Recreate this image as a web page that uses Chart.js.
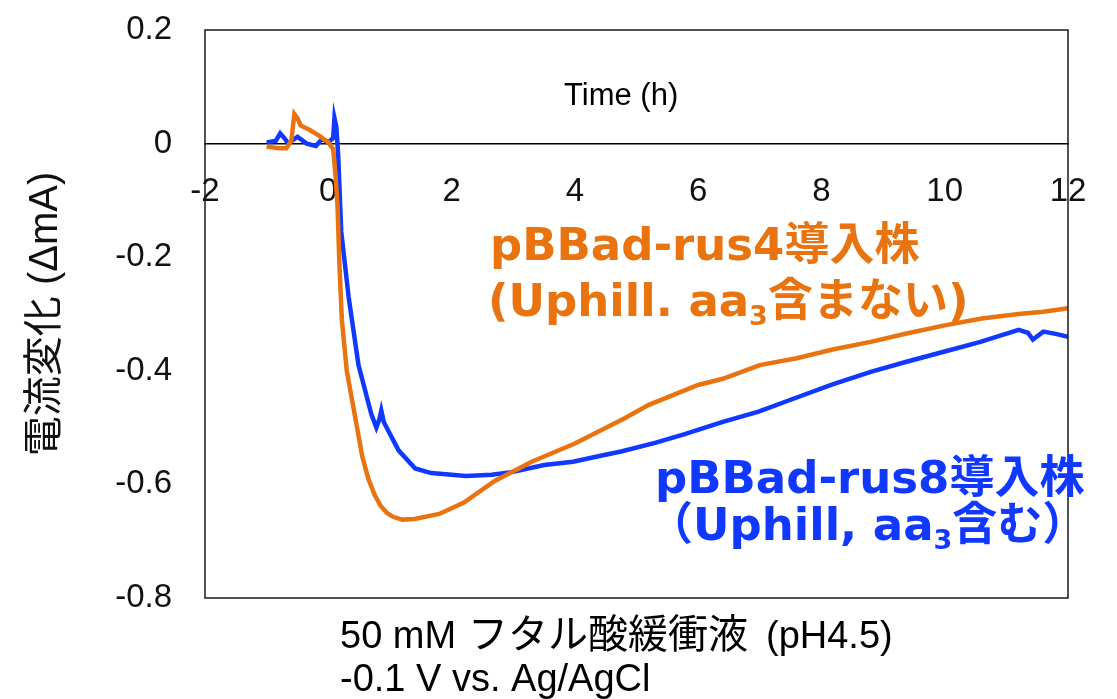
<!DOCTYPE html>
<html>
<head>
<meta charset="utf-8">
<script src="https://cdn.jsdelivr.net/npm/chart.js@4.4.1/dist/chart.umd.min.js"></script>
<style>
  html, body { margin: 0; padding: 0; background: #fff; }
  #wrap { width: 1117px; height: 699px; }
</style>
</head>
<body>
<div id="wrap"><canvas id="chart" width="1117" height="699"></canvas></div>
<script>
// tick values
const xTickValues = [-2, 0, 2, 4, 6, 8, 10, 12];
const yTickValues = [-0.8, -0.6, -0.4, -0.2, 0, 0.2];

// pBBad-rus4 (orange), time in h / current change in mA
const timeRus4 = [-1.0, -0.8, -0.68, -0.6, -0.55, -0.5, -0.45, -0.3, -0.15, 0.0, 0.08, 0.12, 0.15, 0.18, 0.22,
  0.3, 0.4, 0.5, 0.55, 0.65, 0.75, 0.85, 0.95, 1.05, 1.2, 1.4, 1.8, 2.2, 2.7, 3.3, 4.0, 4.8, 5.2, 6.0, 6.4, 7.0, 7.6, 8.2, 8.8,
  9.4, 10.0, 10.6, 11.2, 11.6, 12.0];
const currentRus4 = [-0.005, -0.008, -0.008, 0.005, 0.052, 0.045, 0.032, 0.024, 0.014, 0.002, -0.01, -0.06, -0.11, -0.21, -0.31,
  -0.40, -0.46, -0.52, -0.55, -0.59, -0.618, -0.638, -0.65, -0.657, -0.662, -0.661, -0.652, -0.632, -0.594, -0.56, -0.528, -0.484, -0.46, -0.425, -0.414, -0.39, -0.378, -0.362, -0.349,
  -0.334, -0.32, -0.308, -0.300, -0.296, -0.29];

// pBBad-rus8 (blue)
const timeRus8 = [-1.0, -0.85, -0.78, -0.7, -0.65, -0.5, -0.35, -0.2, -0.1, 0.0, 0.08, 0.1, 0.13, 0.16, 0.21,
  0.33, 0.49, 0.7, 0.78, 0.83, 0.86, 0.9, 0.98, 1.14, 1.41, 1.67, 2.0, 2.23, 2.65, 3.0, 3.5, 3.97, 4.4, 4.75,
  5.3, 5.77, 6.4, 6.98, 7.6, 8.18, 8.8, 9.38, 10.0, 10.58, 10.9, 11.2, 11.35, 11.43, 11.6, 11.8, 12.0];
const currentRus8 = [0.002, 0.005, 0.018, 0.008, 0.0, 0.012, 0.0, -0.004, 0.008, 0.002, 0.01, 0.045, 0.03, -0.02, -0.155,
  -0.27, -0.39, -0.477, -0.50, -0.485, -0.47, -0.49, -0.507, -0.54, -0.572, -0.58, -0.583, -0.585, -0.583, -0.578, -0.566, -0.56, -0.55, -0.542,
  -0.527, -0.512, -0.49, -0.472, -0.447, -0.424, -0.402, -0.384, -0.366, -0.349, -0.338, -0.328, -0.333, -0.345, -0.331, -0.335, -0.34];

const orange = '#e8730f';
const blue = '#1038ff';

const toPoints = (xs, ys) => xs.map((x, i) => ({ x: x, y: ys[i] }));

function drawRuns(ctx, x, y, runs, color) {
  ctx.fillStyle = color;
  ctx.textAlign = 'left';
  ctx.textBaseline = 'alphabetic';
  for (const r of runs) {
    ctx.font = r.font;
    if (r.x !== undefined) x = r.x;
    ctx.fillText(r.text, x, y + (r.dy || 0));
    x += ctx.measureText(r.text).width;
  }
}

const boldFont = 'bold 45px "DejaVu Sans", "Noto Sans CJK JP"';
const subFont = 'bold 27px "DejaVu Sans", "Noto Sans CJK JP"';
const noteFont = '38px "Liberation Sans", "Noto Sans CJK JP"';
const noteCjkFont = '40px "Noto Sans CJK JP"';

const annotations = {
  id: 'annotations',
  afterDraw(chart) {
    const { ctx, chartArea: a, scales } = chart;
    ctx.save();
    // plot frame
    ctx.strokeStyle = '#1a1a1a';
    ctx.lineWidth = 1.5;
    ctx.strokeRect(a.left, a.top, a.right - a.left, a.bottom - a.top);

    // axis caption inside plot
    ctx.fillStyle = '#000';
    ctx.font = '31px "Liberation Sans", "DejaVu Sans"';
    ctx.textAlign = 'center';
    ctx.textBaseline = 'middle';
    ctx.fillText('Time (h)', scales.x.getPixelForValue(4.75), scales.y.getPixelForValue(0.083));

    // curve labels
    drawRuns(ctx, 490, 260, [{ text: 'pBBad-rus4導入株', font: boldFont }], orange);
    drawRuns(ctx, 488, 316, [
      { text: '(Uphill. aa', font: boldFont },
      { text: '3', font: subFont, dy: 9 },
      { text: '含まない)', font: boldFont }
    ], orange);
    drawRuns(ctx, 655, 493, [{ text: 'pBBad-rus8導入株', font: boldFont }], blue);
    drawRuns(ctx, 648, 540, [
      { text: '（Uphill, aa', font: boldFont },
      { text: '3', font: subFont, dy: 9 },
      { text: '含む）', font: boldFont }
    ], blue);

    // conditions below the plot
    drawRuns(ctx, 340, 648, [
      { text: '50 mM', font: noteFont },
      { text: 'フタル酸緩衝液', font: noteCjkFont, x: 468 },
      { text: '(pH4.5)', font: noteFont, x: 766 }
    ], '#000');
    drawRuns(ctx, 340, 691, [{ text: '-0.1 V vs. Ag/AgCl', font: noteFont }], '#000');
    ctx.restore();
  }
};

new Chart(document.getElementById('chart'), {
  type: 'line',
  data: {
    datasets: [
      {
        label: 'pBBad-rus4',
        data: toPoints(timeRus4, currentRus4),
        borderColor: orange,
        borderWidth: 4.5,
        pointRadius: 0,
        tension: 0
      },
      {
        label: 'pBBad-rus8',
        data: toPoints(timeRus8, currentRus8),
        borderColor: blue,
        borderWidth: 4.5,
        pointRadius: 0,
        tension: 0
      }
    ]
  },
  options: {
    responsive: false,
    animation: false,
    devicePixelRatio: 1,
    layout: { padding: { left: 0, top: 30, right: 49, bottom: 101 } },
    plugins: { legend: { display: false }, tooltip: { enabled: false } },
    scales: {
      x: {
        type: 'linear',
        position: { y: 0 },
        min: -2,
        max: 12,
        afterBuildTicks: s => { s.ticks = xTickValues.map(v => ({ value: v })); },
        // tick marks are not drawn (grid hidden) but their length offsets the labels
        grid: { display: false, drawTicks: true, tickLength: 25 },
        border: { display: true, color: '#000', width: 1.5 },
        ticks: {
          autoSkip: false,
          maxRotation: 0,
          padding: 4,
          color: '#111',
          font: { family: '"Liberation Sans", "DejaVu Sans"', size: 33 },
          callback: v => String(v)
        }
      },
      y: {
        min: -0.8,
        max: 0.2,
        afterBuildTicks: s => { s.ticks = yTickValues.map(v => ({ value: v })); },
        afterFit: s => { s.width = 205; },
        grid: { display: false, drawTicks: true, tickLength: 25 },
        border: { display: false },
        ticks: {
          padding: 8,
          color: '#111',
          font: { family: '"Liberation Sans", "DejaVu Sans"', size: 33 },
          callback: v => Math.abs(v) < 1e-9 ? '0' : v.toFixed(1)
        },
        title: {
          display: true,
          text: '電流変化 (ΔmA)',
          color: '#111',
          padding: { top: 22, bottom: 0 },
          font: { family: '"Liberation Sans", "Noto Sans CJK JP"', size: 40 }
        }
      }
    }
  },
  plugins: [annotations]
});
</script>
</body>
</html>
